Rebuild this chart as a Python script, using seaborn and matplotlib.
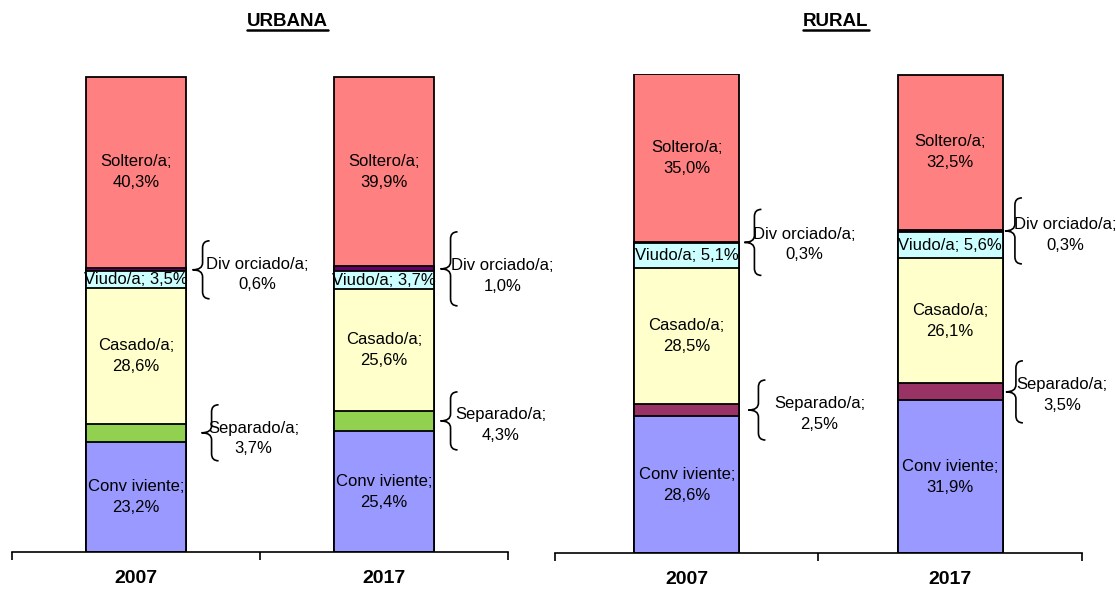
import numpy as np
import pandas as pd
import matplotlib.pyplot as plt
import seaborn as sns
from matplotlib.path import Path
from matplotlib.patches import PathPatch
from matplotlib.lines import Line2D
from matplotlib.transforms import IdentityTransform

# Datos (% de la poblacion por estado civil), de abajo hacia arriba
anios = ['2007', '2017']
estados = ['Conv iviente', 'Separado/a', 'Casado/a', 'Viudo/a', 'Div orciado/a', 'Soltero/a']

urbana_2007 = [23.2, 3.7, 28.6, 3.5, 0.6, 40.3]
urbana_2017 = [25.4, 4.3, 25.6, 3.7, 1.0, 39.9]
rural_2007 = [28.6, 2.5, 28.5, 5.1, 0.3, 35.0]
rural_2017 = [31.9, 3.5, 26.1, 5.6, 0.3, 32.5]

colores_urbana = ['#9999FF', '#92D050', '#FFFFCC', '#CCFFFF', '#660066', '#FF8080']
colores_rural = ['#9999FF', '#993366', '#FFFFCC', '#CCFFFF', '#660066', '#FF8080']

sns.set_style('white')
FUENTE = ['Liberation Sans', 'DejaVu Sans']
FUENTE_NEGRITA = ['Liberation Sans Narrow', 'Liberation Sans', 'DejaVu Sans']
plt.rcParams['font.family'] = FUENTE
plt.rcParams['text.color'] = 'black'
plt.rcParams['xtick.color'] = 'black'
plt.rcParams['xtick.labelcolor'] = 'black'

# posicion de las llaves: (dx punta, media altura, dx texto, dy texto) en pixeles
llaves_urbana = {
    (0, 'Div orciado/a'): (7, 29, 65, 5),
    (0, 'Separado/a'): (16, 28, 52, 6),
    (1, 'Div orciado/a'): (7, 37, 62, 7),
    (1, 'Separado/a'): (7, 29, 60, 4),
}
llaves_rural = {
    (0, 'Div orciado/a'): (5, 33, 60, 2),
    (0, 'Separado/a'): (9, 30, 71, 4),
    (1, 'Div orciado/a'): (2, 33, 60, 4),
    (1, 'Separado/a'): (3, 31, 56, 3),
}


def pct(v):
    return f'{v:.1f}'.replace('.', ',') + '%'


def llave(fig, ax, x, y, dx, h):
    x0, y0 = ax.transData.transform((x, y))
    x0 += dx
    xm = x0 + 10
    xe = x0 + 17
    c = 7
    verts = [(xe, y0 + h), (xm, y0 + h), (xm, y0 + h - c), (xm, y0 + c),
             (xm, y0), (x0, y0), (xm, y0), (xm, y0 - c), (xm, y0 - h + c),
             (xm, y0 - h), (xe, y0 - h)]
    codes = [Path.MOVETO, Path.CURVE3, Path.CURVE3, Path.LINETO, Path.CURVE3,
             Path.CURVE3, Path.CURVE3, Path.CURVE3, Path.LINETO, Path.CURVE3,
             Path.CURVE3]
    fig.add_artist(PathPatch(Path(verts, codes), transform=IdentityTransform(),
                             fill=False, lw=1.2, ec='black'))


def panel(fig, ax, datos, colores, llaves):
    tabla = np.array(datos)
    acum = tabla.cumsum(axis=1)
    # barras apiladas: se dibujan los acumulados de mayor a menor
    for k in range(len(estados) - 1, -1, -1):
        df = pd.DataFrame({'anio': anios, 'valor': acum[:, k]})
        sns.barplot(data=df, x='anio', y='valor', color=colores[k], saturation=1,
                    width=0.4, edgecolor='black', linewidth=1.3, ax=ax)
    ax.set_xlim(-0.5, 1.5)
    ax.set_ylim(0, 100)
    ax.set_xlabel('')
    ax.set_ylabel('')
    ax.set_yticks([])
    for s in ['left', 'top', 'right']:
        ax.spines[s].set_visible(False)
    ax.spines['bottom'].set_linewidth(1.2)
    ax.spines['bottom'].set_color('black')
    ax.set_xticks([0, 1])
    ax.set_xticklabels(anios, fontsize=14, fontweight='bold', family=FUENTE_NEGRITA)
    ax.tick_params(axis='x', which='major', length=0, pad=13)
    ax.set_xticks([-0.5, 0.5, 1.5], minor=True)
    ax.tick_params(axis='x', which='minor', length=6, width=1.2, color='black',
                   direction='out', bottom=True)

    for i in range(len(anios)):
        for k, nombre in enumerate(estados):
            v = tabla[i, k]
            medio = acum[i, k] - v / 2
            if nombre in ('Conv iviente', 'Casado/a', 'Soltero/a'):
                ax.text(i, medio, f'{nombre};\n{pct(v)}', ha='center', va='center',
                        fontsize=12, linespacing=1.5)
            elif nombre == 'Viudo/a':
                ax.text(i, medio, f'{nombre}; {pct(v)}', ha='center', va='center',
                        fontsize=12)
            else:
                dx, h, tx, ty = llaves[(i, nombre)]
                llave(fig, ax, i + 0.2, medio, dx, h)
                ax.annotate(f'{nombre};\n{pct(v)}', xy=(i + 0.2, medio),
                            xytext=(dx + tx, -ty), textcoords='offset pixels',
                            ha='center', va='center', fontsize=12, linespacing=1.45)


fig = plt.figure(figsize=(11.16, 5.89), dpi=100)
ax1 = fig.add_axes([0.01075, 0.0628, 0.4444, 0.808])
ax2 = fig.add_axes([0.4973, 0.0611, 0.4722, 0.8132])

panel(fig, ax1, [urbana_2007, urbana_2017], colores_urbana, llaves_urbana)
panel(fig, ax2, [rural_2007, rural_2017], colores_rural, llaves_rural)

titulos = []
for txt, xc in [('URBANA', 287), ('RURAL', 836)]:
    t = fig.text(xc / 1116, 1 - 22 / 589, txt, ha='center', va='center',
                 fontsize=13.5, fontweight='bold', family=FUENTE_NEGRITA)
    titulos.append(t)

fig.canvas.draw()
for t in titulos:
    bb = t.get_window_extent()
    fig.add_artist(Line2D([bb.x0, bb.x1], [bb.y0 + 1, bb.y0 + 1], lw=1.8,
                          color='black', transform=IdentityTransform()))

fig.savefig('out.png', dpi=100)
